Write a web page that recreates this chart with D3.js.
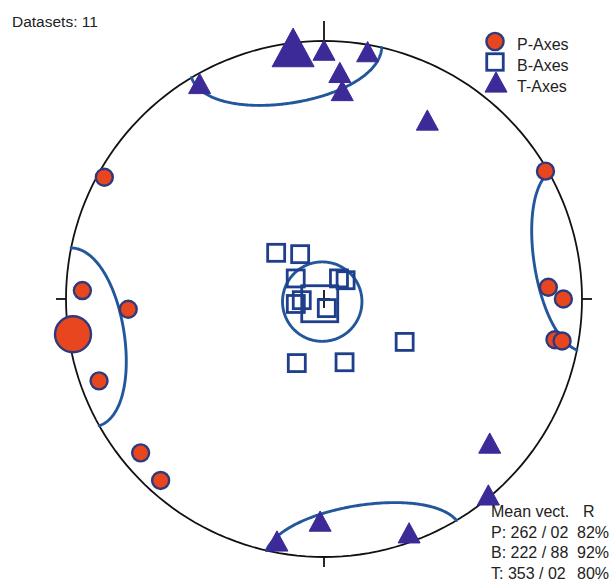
<!DOCTYPE html>
<html>
<head>
<meta charset="utf-8">
<script src="https://cdn.jsdelivr.net/npm/d3@7"></script>
<style>
  body { margin: 0; background: #fff; }
  svg { display: block; font-family: Arial, "Liberation Sans", sans-serif; }
</style>
</head>
<body>
<div id="wrapper"></div>
<script>
const pAxes = [[299, 3], [272, 7], [267, 25], [250, 8], [230, 8], [222, 6], [60, 1], [87, 14], [90, 8], [100, 10], [100, 7]];
const bAxes = [[314, 69], [332, 74], [306, 79], [36, 82], [49, 81], [260, 81], [267, 83], [163, 87], [118, 61], [203, 68], [162, 69]];
const tAxes = [[330, 4], [0, 4], [10, 3], [4, 13], [5, 20], [30, 21], [131, 16], [140, 1], [181, 15], [160, 4], [191, 5]];

const axisNames = ["P", "B", "T"];
const meanTrend = [262, 222, 353];
const meanPlunge = [2, 88, 2];
const meanR = [82, 92, 80];

// confidence cones: centre trend / plunge and half angle
const coneTrend = [261, 214, 351];
const conePlunge = [2, 89, 2];
const coneRadius = [20.5, 12.5, 22];

const legendLabels = ["P-Axes", "B-Axes", "T-Axes"];
const datasetCount = 11;

var dimension = {
    width: 611,
    height: 582,
    cx: 324,
    cy: 299,
    radius: 258
};

const colors = {
    pFill: "#e8461e",
    pStroke: "#2e3a7e",
    bStroke: "#1f3f8c",
    tFill: "#3b2a97",
    cone: "#23579c",
    net: "#111"
};

// lower hemisphere equal-area (Schmidt) net
const projection = d3.geoAzimuthalEqualArea()
    .rotate([0, -90])
    .clipAngle(90)
    .scale(dimension.radius / Math.SQRT2)
    .translate([dimension.cx, dimension.cy])
    .precision(0.1);

const toGeo = (trend, plunge) => [180 - trend, plunge];
const project = (d) => projection(toGeo(d[0], d[1]));
const geoPath = d3.geoPath(projection);

const svg = d3.select("#wrapper").append("svg")
    .attr("width", dimension.width)
    .attr("height", dimension.height);

svg.append("rect")
    .attr("width", dimension.width)
    .attr("height", dimension.height)
    .attr("fill", "#fff");

// primitive circle
svg.append("path")
    .datum({type: "Sphere"})
    .attr("d", geoPath)
    .attr("fill", "none")
    .attr("stroke", colors.net)
    .attr("stroke-width", 1.8);

// N, E, S, W ticks
const ticks = [[0, 20], [90, 10], [180, 10], [270, 10]];
svg.append("g").selectAll("line")
    .data(ticks)
    .join("line")
    .attr("x1", (d) => project([d[0], 0])[0])
    .attr("y1", (d) => project([d[0], 0])[1])
    .attr("x2", (d) => project([d[0], 0])[0] + d[1] * Math.sin(d[0] * Math.PI / 180))
    .attr("y2", (d) => project([d[0], 0])[1] - d[1] * Math.cos(d[0] * Math.PI / 180))
    .attr("stroke", colors.net)
    .attr("stroke-width", 1.8);

// centre cross
const centre = project([0, 90]);
svg.append("path")
    .attr("d", `M${centre[0] - 6},${centre[1]}H${centre[0] + 6}M${centre[0]},${centre[1] - 9}V${centre[1] + 9}`)
    .attr("stroke", colors.net)
    .attr("stroke-width", 1.8);

// confidence cones, both the cone and its antipode clipped to the lower hemisphere
function coneLines(i) {
    const circle = d3.geoCircle().radius(coneRadius[i]).precision(1);
    const a = circle.center(toGeo(coneTrend[i], conePlunge[i]))().coordinates[0];
    const b = circle.center(toGeo(coneTrend[i] + 180, -conePlunge[i]))().coordinates[0];
    return [{type: "LineString", coordinates: a}, {type: "LineString", coordinates: b}];
}

const coneGroup = svg.append("g");
axisNames.forEach((name, i) => {
    coneGroup.selectAll(null)
        .data(coneLines(i))
        .join("path")
        .attr("d", geoPath)
        .attr("fill", "none")
        .attr("stroke", colors.cone)
        .attr("stroke-width", 2.9)
        .attr("stroke-linecap", "round");
});

function triangle(x, y, w) {
    const h = w * 0.92;
    return `M${x},${y - h / 2}L${x + w / 2},${y + h / 2}L${x - w / 2},${y + h / 2}Z`;
}

function drawP(g, pts, r) {
    g.selectAll(null)
        .data(pts)
        .join("circle")
        .attr("cx", (d) => d[0])
        .attr("cy", (d) => d[1])
        .attr("r", r)
        .attr("fill", colors.pFill)
        .attr("stroke", colors.pStroke)
        .attr("stroke-width", 2.4);
}

function drawB(g, pts, s) {
    g.selectAll(null)
        .data(pts)
        .join("rect")
        .attr("x", (d) => d[0] - s / 2)
        .attr("y", (d) => d[1] - s / 2)
        .attr("width", s)
        .attr("height", s)
        .attr("fill", "none")
        .attr("stroke", colors.bStroke)
        .attr("stroke-width", 2.8);
}

function drawT(g, pts, w) {
    g.selectAll(null)
        .data(pts)
        .join("path")
        .attr("d", (d) => triangle(d[0], d[1], w))
        .attr("fill", colors.tFill)
        .attr("stroke", colors.tFill)
        .attr("stroke-width", 1)
        .attr("stroke-linejoin", "round");
}

const marks = svg.append("g");
const meanPts = meanTrend.map((t, i) => project([t, meanPlunge[i]]));

drawP(marks, pAxes.map(project), 8.5);
drawP(marks, [meanPts[0]], 18);
drawB(marks, bAxes.map(project), 17);
drawB(marks, [meanPts[1]], 36);
drawT(marks, tAxes.map(project), 22);
drawT(marks, [meanPts[2]], 42);

// header
svg.append("text")
    .attr("x", 12)
    .attr("y", 27)
    .attr("font-size", 15.5)
    .attr("fill", "#222")
    .text(`Datasets: ${datasetCount}`);

// legend
const legend = svg.append("g");
drawP(legend, [[495, 41.5]], 8.6);
drawB(legend, [[495, 62]], 16.5);
drawT(legend, [[496, 82]], 22);
legend.selectAll("text")
    .data(legendLabels)
    .join("text")
    .attr("x", 517)
    .attr("y", (d, i) => 49.5 + i * 21)
    .attr("font-size", 16)
    .attr("fill", "#222")
    .text((d) => d);

// mean vectors
const pad = (v) => String(v).padStart(2, "0");
const stats = svg.append("g").attr("font-size", 16).attr("fill", "#222");
stats.append("text").attr("x", 491).attr("y", 517).text("Mean vect.");
stats.append("text").attr("x", 583).attr("y", 517).text("R");
stats.selectAll(null)
    .data(axisNames)
    .join("text")
    .attr("x", 491)
    .attr("y", (d, i) => 537.5 + i * 20.5)
    .text((d, i) => `${d}: ${meanTrend[i]} / ${pad(meanPlunge[i])}`);
stats.selectAll(null)
    .data(axisNames)
    .join("text")
    .attr("x", 577)
    .attr("y", (d, i) => 537.5 + i * 20.5)
    .text((d, i) => `${meanR[i]}%`);
</script>
</body>
</html>
